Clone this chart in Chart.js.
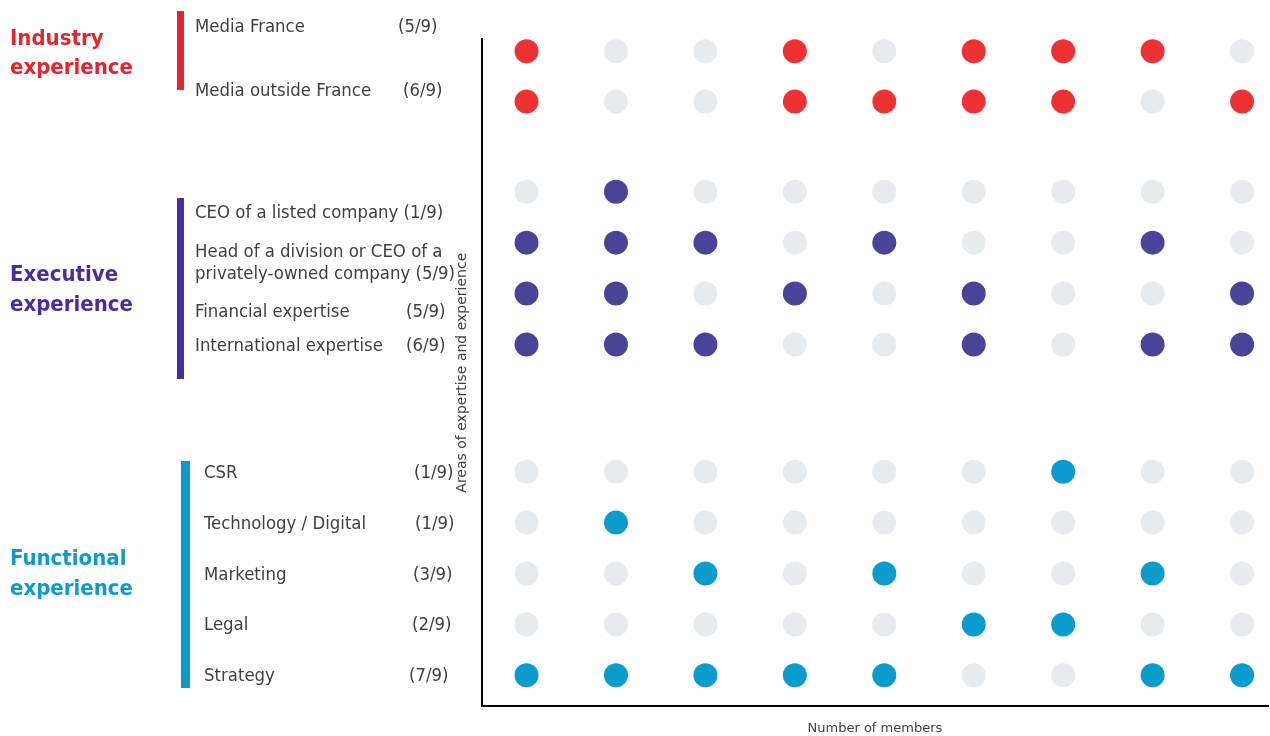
<!DOCTYPE html>
<html>
<head>
<meta charset="utf-8">
<script src="https://cdn.jsdelivr.net/npm/chart.js@4.4.1/dist/chart.umd.min.js"></script>
<style>
  html, body { margin: 0; padding: 0; background: #ffffff; overflow: hidden; }
  #wrap { width: 1270px; height: 736px; position: relative; overflow: hidden; }
  #c { display: block; }
</style>
</head>
<body>
<div id="wrap"><canvas id="c"></canvas></div>
<script>
// ---------- DATA ----------
const members = [1, 2, 3, 4, 5, 6, 7, 8, 9];
const rowLabels = [
  'Media France',
  'Media outside France',
  'CEO of a listed company',
  ['Head of a division or CEO of a', 'privately-owned company'],
  'Financial expertise',
  'International expertise',
  'CSR',
  'Technology / Digital',
  'Marketing',
  'Legal',
  'Strategy'
];
const rowCounts = [5, 6, 1, 5, 5, 6, 1, 1, 3, 2, 7];
const rowGroup = [0, 0, 1, 1, 1, 1, 2, 2, 2, 2, 2];
const rowY = [0.24, 1.23, 3, 4, 5, 6, 8.5, 9.5, 10.5, 11.5, 12.5];
const rowMembers = [
  [1, 4, 6, 7, 8],
  [1, 4, 5, 6, 7, 9],
  [2],
  [1, 2, 3, 5, 8],
  [1, 2, 4, 6, 9],
  [1, 2, 3, 6, 8, 9],
  [7],
  [2],
  [3, 5, 8],
  [6, 7],
  [1, 2, 3, 4, 5, 8, 9]
];
const groupNames = [['Industry', 'experience'], ['Executive', 'experience'], ['Functional', 'experience']];
const totalMembers = 9;
const xTitle = 'Number of members';
const yTitle = 'Areas of expertise and experience';

// ---------- STYLE ----------
const groupColors = ['#E3262B', '#4A2CA0', '#0E9ACB'];
const dotColors = ['#EE3234', '#4A4499', '#0A9CCC'];
const offColor = '#E8EBEE';
const textColor = '#404040';

// build datasets from data
const activeSets = groupNames.map(() => []);
const offSet = [];
rowY.forEach((y, r) => {
  members.forEach(m => {
    const pt = { x: m, y: y };
    if (rowMembers[r].includes(m)) activeSets[rowGroup[r]].push(pt);
    else offSet.push(pt);
  });
});

// ---------- LEFT LABEL PANEL (layout) ----------
const labelLayout = {
  itemX: [195, 195, 195, 195, 195, 195, 204, 204, 204, 204, 204],
  countX: [398, 403, null, null, 406, 406, 414, 415, 413, 412, 409],
  baseY: [32, 96, 218, [257, 279], 317, 351, 478, 529, 580, 630, 681],
  groupBase: [[45, 74], [281, 311], [565, 595]],
  bars: [[177, 11, 7, 79], [177, 198, 7, 181], [181, 461, 9, 227]]
};

const leftPanel = {
  id: 'leftPanel',
  afterDraw(chart) {
    const ctx = chart.ctx;
    ctx.save();
    ctx.textBaseline = 'alphabetic';
    ctx.textAlign = 'left';
    labelLayout.bars.forEach((b, g) => {
      ctx.fillStyle = groupColors[g];
      ctx.fillRect(b[0], b[1], b[2], b[3]);
    });
    ctx.font = 'bold 22px "DejaVu Sans Condensed", "DejaVu Sans", sans-serif';
    groupNames.forEach((lines, g) => {
      ctx.fillStyle = groupColors[g];
      lines.forEach((t, i) => ctx.fillText(t, 10, labelLayout.groupBase[g][i]));
    });
    ctx.font = '18.4px "DejaVu Sans Condensed", "DejaVu Sans", sans-serif';
    ctx.fillStyle = textColor;
    rowLabels.forEach((lab, r) => {
      const cnt = '(' + rowCounts[r] + '/' + totalMembers + ')';
      const x = labelLayout.itemX[r];
      const by = labelLayout.baseY[r];
      if (Array.isArray(lab)) {
        ctx.fillText(lab[0], x, by[0]);
        ctx.fillText(lab[1] + ' ' + cnt, x, by[1]);
      } else if (labelLayout.countX[r] === null) {
        ctx.fillText(lab + ' ' + cnt, x, by);
      } else {
        ctx.fillText(lab, x, by);
        ctx.fillText(cnt, labelLayout.countX[r], by);
      }
    });
    ctx.restore();
  }
};

const pointDs = (data, color) => ({
  data: data,
  backgroundColor: color,
  borderWidth: 0,
  pointRadius: 12,
  pointHoverRadius: 12,
  showLine: false,
  clip: false
});

new Chart(document.getElementById('c'), {
  type: 'scatter',
  data: {
    datasets: [
      pointDs(offSet, offColor),
      pointDs(activeSets[0], dotColors[0]),
      pointDs(activeSets[1], dotColors[1]),
      pointDs(activeSets[2], dotColors[2])
    ]
  },
  options: {
    responsive: true,
    maintainAspectRatio: false,
    animation: false,
    layout: { autoPadding: false, padding: { left: 454, top: 39, right: 2, bottom: 0 } },
    plugins: { legend: { display: false }, tooltip: { enabled: false } },
    scales: {
      x: {
        type: 'linear',
        min: 0.5,
        max: 9.29,
        grid: { display: false, drawTicks: false },
        ticks: { display: false },
        border: { display: true, color: '#000000', width: 2 },
        title: {
          display: true,
          text: xTitle,
          color: textColor,
          font: { family: '"DejaVu Sans", sans-serif', size: 13 },
          padding: { top: 14, bottom: 0 }
        }
      },
      y: {
        type: 'linear',
        reverse: true,
        min: 0,
        max: 13.11,
        grid: { display: false, drawTicks: false },
        ticks: { display: false },
        border: { display: true, color: '#000000', width: 2 },
        title: {
          display: true,
          text: yTitle,
          color: textColor,
          font: { family: '"DejaVu Sans", sans-serif', size: 14 },
          padding: { top: 0, bottom: 11 }
        }
      }
    }
  },
  plugins: [leftPanel]
});
</script>
</body>
</html>
